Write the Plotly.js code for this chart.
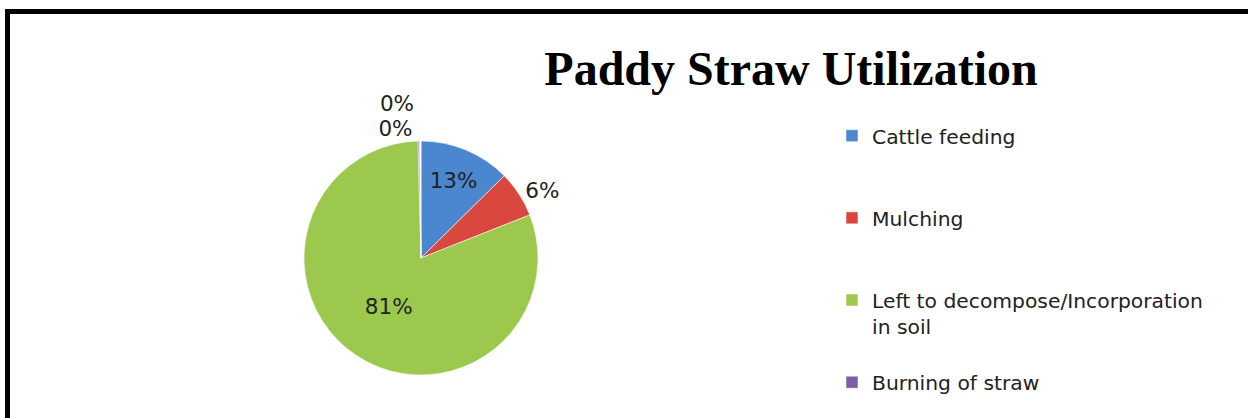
<!DOCTYPE html>
<html>
<head>
<meta charset="utf-8">
<script src="https://cdn.plot.ly/plotly-3.0.1.min.js"></script>
<style>
html,body{margin:0;padding:0;background:#fff;}
#chart{width:1248px;height:418px;}
path.textline{stroke:none !important;stroke-opacity:0 !important;}
</style>
</head>
<body>
<div id="chart"></div>
<script>
// Data
const categories = ["Cattle feeding", "Mulching", "Left to decompose/Incorporation<br>in soil", "Burning of straw", " "];
const shares = [12.6, 6.4, 80.6, 0.2, 0.2];
const chartTitle = "Paddy Straw Utilization";

// Styles
const sliceColors = ["#4A87CF", "#D9473F", "#9BC84D", "#7E5DA6", "rgba(75,172,198,0)"];
const textPositions = ["inside", "outside", "inside", "outside", "outside"];
// legend spacing: pad labels with blank lines
const legendLabels = categories.map((c, i) => {
  const lines = c.split("<br>").length;
  if (i >= 3) return c;
  let s = c;
  for (let k = lines; k < 3; k++) s += "<br> ";
  return s;
});

const W = 1248, H = 418;
const cx = 421, cy = 258, R = 117;
const txtFont = { family: "DejaVu Sans, sans-serif", size: 21.5, color: "#222" };

const trace = {
  type: "pie",
  labels: legendLabels,
  values: shares,
  sort: false,
  direction: "clockwise",
  rotation: 0,
  hole: 0,
  marker: { colors: sliceColors, line: { color: "rgba(255,255,255,0.55)", width: 1 } },
  textposition: textPositions,
  texttemplate: "%{percent:.0%}",
  insidetextorientation: "horizontal",
  textfont: txtFont,
  outsidetextfont: txtFont,
  insidetextfont: txtFont,
  domain: { x: [(cx - R) / W, (cx + R) / W], y: [1 - (cy + R) / H, 1 - (cy - R) / H] },
  automargin: false,
  hoverinfo: "label+percent"
};

const layout = {
  width: W, height: H,
  margin: { l: 0, r: 0, t: 0, b: 0, autoexpand: false },
  paper_bgcolor: "#fff",
  title: {
    text: chartTitle,
    font: { family: "Liberation Serif, Times New Roman, serif", size: 48, color: "#000", weight: "bold" },
    x: 791 / W, xanchor: "center", xref: "paper",
    y: 1 - 68 / H, yanchor: "middle", yref: "container"
  },
  showlegend: true,
  legend: {
    x: 832 / W, xanchor: "left",
    y: 1 - 116 / H, yanchor: "top",
    valign: "top",
    font: { family: "DejaVu Sans, sans-serif", size: 20.3, color: "#222" },
    bgcolor: "rgba(0,0,0,0)"
  },
  shapes: [
    { type: "line", xref: "paper", yref: "paper", x0: 5 / W, x1: 1, y0: 1 - 11.5 / H, y1: 1 - 11.5 / H, line: { color: "#000", width: 5 } },
    { type: "line", xref: "paper", yref: "paper", x0: 7.5 / W, x1: 7.5 / W, y0: 0, y1: 1 - 9 / H, line: { color: "#000", width: 5 } }
  ]
};

Plotly.newPlot("chart", [trace], layout, { displayModeBar: false, staticPlot: true });
</script>
</body>
</html>
